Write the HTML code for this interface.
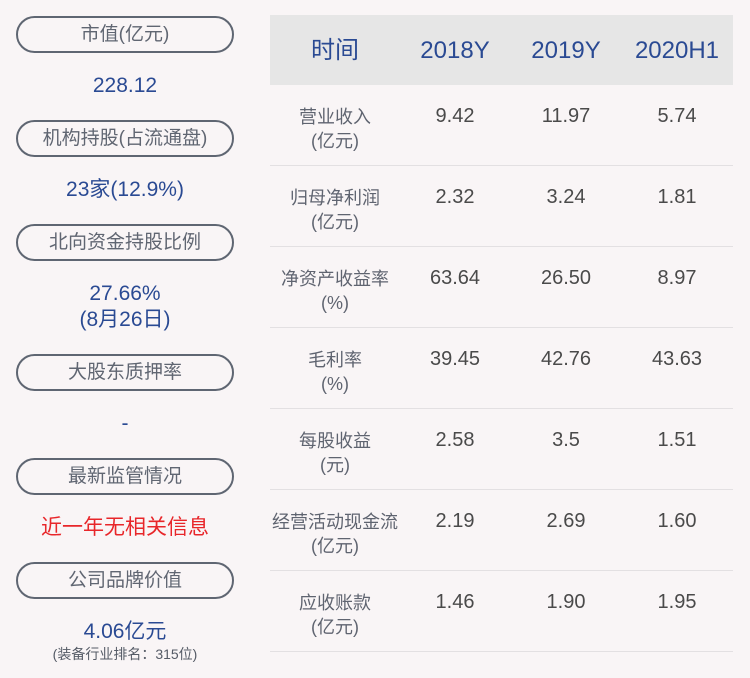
<html><head><style>
body{margin:0;width:750px;height:678px;background:#f9f5f6;font-family:"Liberation Sans","Noto Sans CJK SC",sans-serif;position:relative;overflow:hidden}
.a{position:absolute;text-align:center;white-space:nowrap}
.pill{position:absolute;left:16px;width:214px;height:33px;border:2px solid #5f6672;border-radius:19px;text-align:center;line-height:34px;font-size:19px;color:#606672}
.v{left:0;width:250px;font-size:21px;color:#2a4a93;line-height:26px}
.hd{position:absolute;left:270px;top:15px;width:463px;height:70px;background:#e6e6e6}
.h{font-size:24px;color:#2a4a93;line-height:70px;top:16px}
.ln{position:absolute;left:270px;width:463px;height:1px;background:#e3e0e2}
.lb{font-size:18px;color:#5f6470;line-height:24px;width:140px}
.n{font-size:20px;color:#4a4a4a;line-height:24px;width:110px}
</style></head><body>
<div class="pill" style="top:16px">市值(亿元)</div>
<div class="a v" style="top:73px">228.12</div>
<div class="pill" style="top:120px">机构持股(占流通盘)</div>
<div class="a v" style="top:177px">23家(12.9%)</div>
<div class="pill" style="top:224px">北向资金持股比例</div>
<div class="a v" style="top:281px">27.66%</div>
<div class="a v" style="top:307px">(8月26日)</div>
<div class="pill" style="top:354px">大股东质押率</div>
<div class="a v" style="top:411px">-</div>
<div class="pill" style="top:458px">最新监管情况</div>
<div class="a v" style="top:515px;color:#e8262a">近一年无相关信息</div>
<div class="pill" style="top:562px">公司品牌价值</div>
<div class="a v" style="top:619px">4.06亿元</div>
<div class="a" style="left:0;width:250px;top:644px;font-size:14px;color:#555b66">(装备行业排名：315位)</div>
<div class="hd"></div>
<div class="a h" style="left:285px;width:100px">时间</div>
<div class="a h" style="left:400px;width:110px">2018Y</div>
<div class="a h" style="left:511px;width:110px">2019Y</div>
<div class="a h" style="left:622px;width:110px">2020H1</div>
<div id="rows"></div>
<script>
var d=[["营业收入","(亿元)","9.42","11.97","5.74"],["归母净利润","(亿元)","2.32","3.24","1.81"],["净资产收益率","(%)","63.64","26.50","8.97"],["毛利率","(%)","39.45","42.76","43.63"],["每股收益","(元)","2.58","3.5","1.51"],["经营活动现金流","(亿元)","2.19","2.69","1.60"],["应收账款","(亿元)","1.46","1.90","1.95"]];
var h="";d.forEach(function(r,i){var t=85+i*81;
h+='<div class="a lb" style="left:265px;top:'+(t+20)+'px">'+r[0]+'</div><div class="a lb" style="left:265px;top:'+(t+44)+'px">'+r[1]+'</div>';
[400,511,622].forEach(function(x,j){h+='<div class="a n" style="left:'+x+'px;top:'+(t+19)+'px">'+r[2+j]+'</div>'});
h+='<div class="ln" style="top:'+(t+80)+'px"></div>';});
document.getElementById("rows").innerHTML=h;
</script>
</body></html>
